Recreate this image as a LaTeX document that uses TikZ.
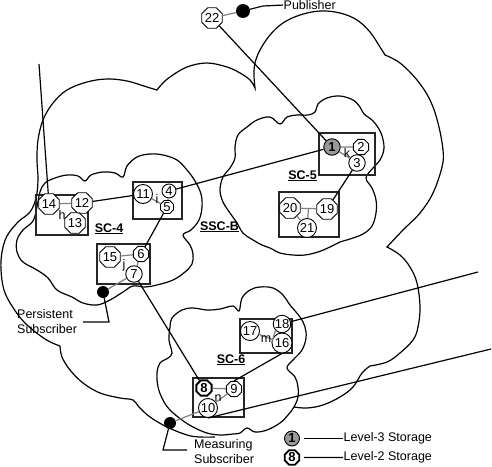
\documentclass[tikz,border=0pt]{standalone}
\usepackage{fontspec}
\setmainfont{Liberation Sans}
\usetikzlibrary{shapes.geometric}

\begin{document}
\begin{tikzpicture}[x=1pt,y=-1pt,font=\fontsize{12.5}{15.5}\selectfont,
  cloudline/.style={line width=1.2pt},
  box/.style={draw=black!85,line width=1.6pt},
  ring/.style={circle,draw,fill=white,line width=0.9pt,inner sep=0pt,minimum size=19pt,font=\fontsize{13}{13}\selectfont},
  octa/.style={regular polygon,regular polygon sides=8,draw,fill=white,line width=0.9pt,inner sep=0pt,minimum size=20.5pt,font=\fontsize{13}{13}\selectfont},
  small/.style={minimum size=16.5pt},
  tiny/.style={minimum size=14pt},
  level3/.style={fill=black!40,font=\fontsize{13}{13}\selectfont\bfseries},
  level2/.style={line width=1.8pt,font=\fontsize{13}{13}\selectfont\bfseries},
  link/.style={draw=black!50,line width=1.2pt},
  wire/.style={line width=1.2pt},
  blob/.style={circle,fill=black,inner sep=0pt,minimum size=12pt},
  tag/.style={inner sep=0.5pt},
  sclabel/.style={font=\fontsize{12.5}{15}\selectfont\bfseries,inner sep=0pt,anchor=base}]
\useasboundingbox (0,0) rectangle (492,466);
\draw[cloudline] plot[smooth,tension=0.6] coordinates {(215,437) (200,437) (187,435) (167,427) (150,417) (139,407) (133,400) (120,398) (100,393) (83,383) (70,370) (62,357) (60,346)}
  -- plot[smooth,tension=0.6] coordinates {(60,346) (45,339) (25,323) (12,306) (4,290) (1,270) (2,252) (7,236) (18,222) (30,212) (36,198) (38,180) (37,160) (38,140) (43,120) (53,103) (67,90) (87,82) (107,79) (127,81) (147,87) (157,90)}
  -- plot[smooth,tension=0.6] coordinates {(157,90) (162,84) (170,77) (187,67) (207,63) (227,67) (240,73) (250,80) (255,88)}
  -- plot[smooth,tension=0.6] coordinates {(255,88) (254,75) (255,63) (260,50) (270,35) (283,23) (300,15) (320,11) (340,13) (357,20) (370,32) (380,47) (385,55)}
  -- plot[smooth,tension=0.6] coordinates {(385,55) (400,63) (417,80) (430,100) (438,123) (443,150) (442,167) (433,193) (420,213) (403,230) (387,247)}
  -- plot[smooth,tension=0.6] coordinates {(387,247) (400,255) (410,267) (417,283) (420,307) (418,327) (413,340) (400,353) (387,362) (370,366)}
  -- plot[smooth,tension=0.6] coordinates {(370,366) (362,373) (353,387) (340,397) (323,405) (307,408) (294,407)};
\draw[cloudline] plot[smooth cycle,tension=0.6] coordinates {(40,192) (45,183) (55,178) (67,175) (78,176) (85,181) (91,175) (103,172) (115,173) (123,177) (127,166) (137,157) (150,154) (163,155) (177,160) (187,170) (195,181) (201,194) (202,207) (199,220) (191,230) (183,235) (190,245) (193,254) (192,264) (185,272) (173,280) (157,285) (145,287) (133,286) (123,292) (110,300) (97,305) (83,303) (72,297) (57,290) (48,278) (37,270) (23,262) (17,252) (17,240) (23,230) (33,221) (37,207)};
\draw[cloudline] plot[smooth cycle,tension=0.6] coordinates {(280,124) (287,117) (297,115) (308,115) (315,112) (318,104) (327,98) (340,96) (353,100) (360,107) (364,114) (373,121) (381,133) (384,148) (380,160) (373,168) (366,178) (372,188) (376,200) (376,213) (372,226) (363,234) (350,239) (340,242) (330,247) (318,252) (305,255) (293,255) (280,253) (270,248) (262,245) (253,240) (243,233) (237,223) (230,213) (223,202) (220,190) (223,177) (230,168) (235,158) (235,147) (238,135) (247,127) (257,120) (270,117)};
\draw[cloudline] plot[smooth cycle,tension=0.6] coordinates {(172,318) (182,310) (193,308) (207,310) (220,309) (233,306) (239,311) (242,298) (250,290) (260,287) (273,288) (283,295) (290,305) (300,317) (305,327) (306,338) (302,350) (293,360) (287,368) (295,377) (298,387) (298,397) (294,407) (288,415) (280,423) (267,430) (255,432) (247,428) (240,433) (233,434) (220,435) (207,433) (193,427) (182,420) (170,410) (163,400) (158,387) (157,373) (160,363) (168,358) (172,353) (169,340) (170,327)};
\draw[box] (319,133) rectangle (375,175);
\draw[box] (279,192) rectangle (339,237);
\draw[box] (36,195) rectangle (88,235);
\draw[box] (133,182) rectangle (182,219);
\draw[box] (97,244) rectangle (150,284);
\draw[box] (240,319) rectangle (292,353);
\draw[box] (193,378) rectangle (244,417);
\node[ring,level3,small] (n1) at (332,147) {1};
\node[octa,small] (n2) at (361,147) {2};
\node[ring,small] (n3) at (357,163) {3};
\node[ring,tiny] (n4) at (169,191) {4};
\node[octa,tiny] (n5) at (167,207) {5};
\node[octa,small] (n6) at (141,254) {6};
\node[ring,small] (n7) at (134,274) {7};
\node[octa,level2,small] (n8) at (204,388) {8};
\node[octa,small] (n9) at (234,389) {9};
\node[ring] (n10) at (208,408) {10};
\node[ring] (n11) at (143,194) {11};
\node[octa] (n12) at (82,203) {12};
\node[octa] (n13) at (75,223) {13};
\node[octa] (n14) at (49,204) {14};
\node[octa] (n15) at (110,257) {15};
\node[ring,minimum size=20pt] (n16) at (282,343) {16};
\node[ring] (n17) at (250,331) {17};
\node[ring,minimum size=17.5pt] (n18) at (282,324) {18};
\node[octa] (n19) at (327,209) {19};
\node[octa] (n20) at (290,208) {20};
\node[ring] (n21) at (307,228) {21};
\node[octa] (n22) at (212,18) {22};
\node[blob,minimum size=14pt] (pub) at (243,11) {};
\node[blob] (pers) at (103,292) {};
\node[blob] (meas) at (170,423) {};
\coordinate (up) at (39,64);
\coordinate (east1) at (478,272);
\coordinate (east2) at (491,349);
\coordinate (perstail) at (83,322);
\coordinate (meastail) at (187,450);
\draw[link] (n1) -- (n2);
\draw[link] (n1) -- (n3);
\draw[link] (n20) -- coordinate (tee) (n19);
\draw[link] (n20) -- (n21);
\draw[link] (tee) -- (n21);
\draw[link] (n14) -- (n12);
\draw[link] (n12) -- (n13);
\draw[link] (n11) -- (n5);
\draw[link] (n4) -- (n5);
\draw[link] (n15) -- (n6);
\draw[link] (n6) -- (n7);
\draw[link] (n17) -- (n16);
\draw[link] (n18.south west) -- (n16.west);
\draw[link] (n8) -- (n9);
\draw[link] (n9) -- (n10);
\draw[link] (n22) -- (pub);
\draw[link] (n7) -- (pers);
\draw[link] (n10) -- (meas);
\draw[wire] (n22) -- (n1);
\draw[wire] (n1) -- (n4);
\draw[wire] (n3) -- (n19);
\draw[wire] (n12) -- (n11);
\draw[wire] (n5) -- (n6);
\draw[wire] (n14) -- (up);
\draw[wire] (n7) -- (n8);
\draw[wire] (n16.south) -- (n9.north);
\draw[wire] (n18) -- (east1);
\draw[wire] (n10.south) -- (east2);
\node[tag] (lk) at (347,153) {k};
\node[tag] (lh) at (62,215) {h};
\node[tag] (li) at (157,199) {i};
\node[tag] (lj) at (124,265) {j};
\node[tag] (lm) at (266,339) {m};
\node[tag] (ln) at (218,398) {n};
\node[sclabel] (sc5) at (302.5,179) {\underline{SC-5}};
\node[sclabel] (sc4) at (109,232) {\underline{SC-4}};
\node[sclabel] (sscb) at (219.5,230) {\underline{SSC-B}};
\node[sclabel] (sc6) at (231,363) {\underline{SC-6}};
\node[tag,anchor=base west] (publisher) at (283,9.5) {Publisher};
\draw[wire] (pub) -- (263,6) -- (publisher.west);
\node[tag,anchor=north west,align=left] (perstxt) at (16.5,308.5) {Persistent\\Subscriber};
\draw[wire] (pers) -- (109,322) -- (perstail);
\node[tag,anchor=north west,align=left] (meastxt) at (193.5,438.5) {Measuring\\Subscriber};
\draw[wire] (meas) -- (163,450) -- (meastail);
\node[ring,level3,minimum size=15pt] (key3) at (292,438.5) {1};
\node[octa,level2,minimum size=15.5pt] (key2) at (292,457.5) {8};
\node[tag,anchor=west] (lab3) at (343,438.5) {Level-3 Storage};
\node[tag,anchor=west] (lab2) at (343,457.5) {Level-2 Storage};
\draw[wire,shorten <=4pt] (key3) -- (lab3.west);
\draw[wire,shorten <=4pt] (key2) -- (lab2.west);
\end{tikzpicture}
\end{document}
